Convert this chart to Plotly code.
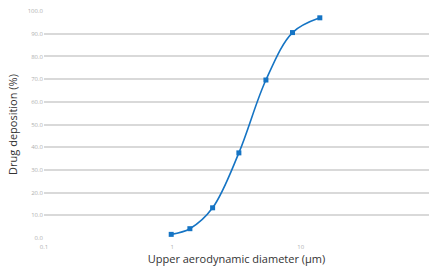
import plotly.graph_objects as go

diameter_um = [0.98, 1.37, 2.06, 3.3, 5.36, 8.64, 14.1]
deposition_pct = [1.6, 4.1, 13.3, 37.5, 69.6, 90.5, 97.0]
y_ticks = [0, 10, 20, 30, 40, 50, 60, 70, 80, 90, 100]
x_ticks = [0.1, 1, 10, 100]
x_tick_labels = ["0.1", "1", "10", "100"]

fig = go.Figure()
fig.add_trace(go.Scatter(
    x=diameter_um, y=deposition_pct, mode="lines+markers",
    line=dict(color="#1574c4", width=1.6, shape="spline", smoothing=1.0),
    marker=dict(symbol="square", size=5, color="#1574c4"),
    showlegend=False,
))

fig.update_layout(
    width=432, height=268,
    margin=dict(l=44, r=3, t=11, b=30),
    paper_bgcolor="white", plot_bgcolor="white",
    font=dict(family="Open Sans, Lato, sans-serif", color="#333333"),
    xaxis=dict(
        type="log", range=[-1, 2], automargin=False,
        tickvals=x_ticks, ticktext=x_tick_labels,
        showgrid=False, zeroline=False, showline=False,
        tickfont=dict(size=6, color="#b0b0b0"),
        ticks="", ticklen=0, ticklabelstandoff=4,
        title=dict(text="Upper aerodynamic diameter (µm)", font=dict(size=11, color="#333333"), standoff=4),
    ),
    yaxis=dict(
        range=[0, 100], tickvals=y_ticks, tickformat=".1f", automargin=False,
        showgrid=True, gridcolor="#d9d9d9", gridwidth=1.5,
        zeroline=False, showline=False,
        tickfont=dict(size=6, color="#b0b0b0"),
        ticks="", ticklen=0,
        title=dict(text="Drug deposition (%)", font=dict(size=11, color="#333333"), standoff=7),
    ),
)

fig.write_html(
    "out.html",
    config={"displayModeBar": False},
    post_script="document.body.style.margin='0';document.body.style.overflow='hidden';",
)
